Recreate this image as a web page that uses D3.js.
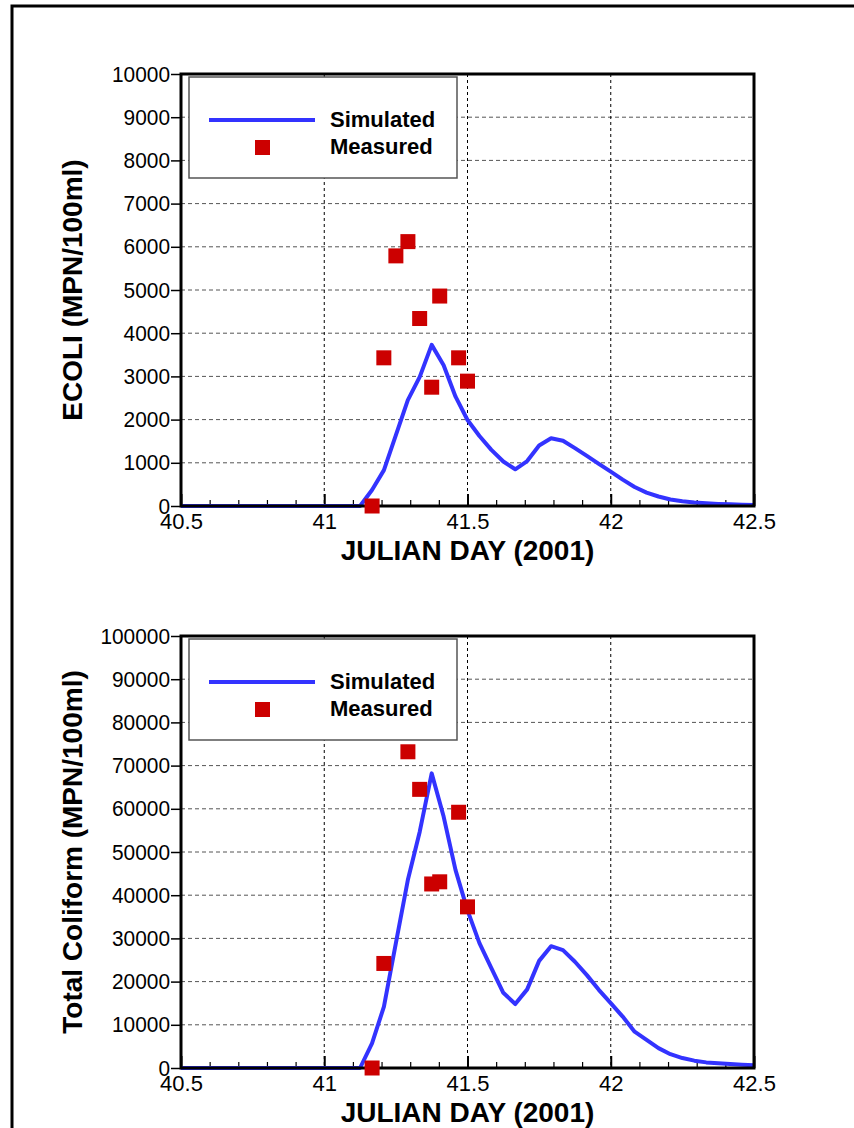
<!doctype html>
<html>
<head>
<meta charset="utf-8">
<script src="https://cdnjs.cloudflare.com/ajax/libs/d3/7.8.5/d3.min.js"></script>
<style>
  body { margin: 0; background: #fff; }
  svg text { font-family: "Liberation Sans", Arial, sans-serif; }
  .tick text { font-size: 22px; fill: #000; }
</style>
</head>
<body>
<svg id="chart" width="854" height="1128"></svg>
<script>
// simulated model output, hourly (julian day)
var simDays = [40.5, 41.0833, 41.125, 41.1667, 41.2083, 41.25, 41.2917, 41.3333, 41.375, 41.4167,
  41.4583, 41.5, 41.5417, 41.5833, 41.625, 41.6667, 41.7083, 41.75, 41.7917, 41.8333,
  41.875, 41.9167, 41.9583, 42.0, 42.0417, 42.0833, 42.125, 42.1667, 42.2083, 42.25,
  42.2917, 42.3333, 42.375, 42.4167, 42.4583, 42.5];
var ecoliSim = [0, 0, 0, 370, 830, 1640, 2450, 2990, 3730, 3260,
  2530, 1990, 1620, 1300, 1030, 850, 1040, 1400, 1570, 1510,
  1340, 1160, 975, 795, 610, 440, 310, 220, 150, 110,
  80, 62, 48, 38, 30, 24];
var tcSim = [0, 0, 0, 5700, 14200, 28900, 43500, 54700, 68200, 58200,
  45800, 36500, 28900, 23100, 17400, 14800, 18200, 24800, 28200, 27300,
  24600, 21500, 18100, 15000, 11900, 8400, 6500, 4600, 3200, 2300,
  1700, 1300, 1100, 900, 750, 630];

// measured samples
var ecoliMeasDays = [41.167, 41.208, 41.25, 41.292, 41.333, 41.375, 41.403, 41.469, 41.5];
var ecoliMeas = [0, 3430, 5790, 6120, 4340, 2750, 4860, 3430, 2890];
var tcMeasDays = [41.167, 41.208, 41.292, 41.333, 41.375, 41.403, 41.469, 41.5];
var tcMeas = [0, 24200, 73200, 64500, 42600, 43100, 59200, 37300];

var xTicks = [40.5, 41, 41.5, 42, 42.5];
var xMinor = [40.6, 40.7, 40.8, 40.9, 41.1, 41.2, 41.3, 41.4, 41.6, 41.7, 41.8, 41.9, 42.1, 42.2, 42.3, 42.4];
var ecoliTicks = [0, 1000, 2000, 3000, 4000, 5000, 6000, 7000, 8000, 9000, 10000];
var tcTicks = [0, 10000, 20000, 30000, 40000, 50000, 60000, 70000, 80000, 90000, 100000];

var svg = d3.select("#chart");

// outer frame
svg.append("rect")
  .attr("x", 12).attr("y", 6)
  .attr("width", 900).attr("height", 1200)
  .attr("fill", "none").attr("stroke", "#000").attr("stroke-width", 3);

function panel(top, yMax, yTicks, yLabel, sim, mDays, mVals) {
  var left = 181, right = 754, bottom = top + 432;
  var x = d3.scaleLinear().domain([40.5, 42.5]).range([left, right]);
  var y = d3.scaleLinear().domain([0, yMax]).range([bottom, top]);
  var g = svg.append("g");

  // horizontal grid
  g.selectAll("line.hgrid").data(yTicks.slice(1, -1)).enter().append("line")
    .attr("x1", left).attr("x2", right)
    .attr("y1", d => y(d)).attr("y2", d => y(d))
    .attr("stroke", "#555").attr("stroke-width", 1).attr("stroke-dasharray", "4,3");
  // vertical grid
  g.selectAll("line.vgrid").data(xTicks.slice(1, -1)).enter().append("line")
    .attr("x1", d => x(d)).attr("x2", d => x(d))
    .attr("y1", top).attr("y2", bottom)
    .attr("stroke", "#000").attr("stroke-width", 1).attr("stroke-dasharray", "3,3");

  // y axis
  var yAxis = d3.axisLeft(y).tickValues(yTicks).tickSize(10).tickPadding(1).tickFormat(d3.format("d"));
  var ya = g.append("g").attr("transform", "translate(" + left + ",0)").call(yAxis);
  ya.select(".domain").remove();
  ya.selectAll(".tick line").attr("stroke-width", 1.5);
  ya.selectAll(".tick text")
    .attr("textLength", d => String(d).length * 11.6)
    .attr("lengthAdjust", "spacingAndGlyphs");

  // x axis: minor and major ticks inward
  var xMinorAxis = d3.axisBottom(x).tickValues(xMinor).tickSize(-6).tickFormat("");
  var xm = g.append("g").attr("transform", "translate(0," + bottom + ")").call(xMinorAxis);
  xm.select(".domain").remove();
  xm.selectAll(".tick line").attr("stroke-width", 1.2);
  var xAxis = d3.axisBottom(x).tickValues(xTicks).tickSize(-12).tickPadding(6).tickFormat(d3.format("~g"));
  var xa = g.append("g").attr("transform", "translate(0," + bottom + ")").call(xAxis);
  xa.select(".domain").remove();
  xa.selectAll(".tick line").attr("stroke-width", 2);
  xa.selectAll(".tick text").attr("y", 23).attr("dy", 0);

  // simulated line
  var line = d3.line().x((d, i) => x(simDays[i])).y(d => y(d));
  g.append("path").attr("d", line(sim))
    .attr("fill", "none").attr("stroke", "#3333ff").attr("stroke-width", 4)
    .attr("stroke-linejoin", "round");

  // plot box
  g.append("rect").attr("x", left).attr("y", top)
    .attr("width", right - left).attr("height", bottom - top)
    .attr("fill", "none").attr("stroke", "#000").attr("stroke-width", 3);

  // measured points
  g.selectAll("rect.meas").data(mVals).enter().append("rect")
    .attr("x", (d, i) => x(mDays[i]) - 7.5)
    .attr("y", d => y(d) - 7.5)
    .attr("width", 15).attr("height", 15)
    .attr("fill", "#cc0000");

  // legend
  var lg = g.append("g").attr("transform", "translate(189," + (top + 3) + ")");
  lg.append("rect").attr("x", 0).attr("y", 0).attr("width", 268).attr("height", 101)
    .attr("fill", "#fff").attr("stroke", "#555").attr("stroke-width", 1.5);
  lg.append("line").attr("x1", 20).attr("x2", 126).attr("y1", 43).attr("y2", 43)
    .attr("stroke", "#3333ff").attr("stroke-width", 4);
  lg.append("rect").attr("x", 66).attr("y", 63).attr("width", 15).attr("height", 15)
    .attr("fill", "#cc0000");
  lg.append("text").attr("x", 141).attr("y", 50).text("Simulated")
    .attr("font-size", 22).attr("font-weight", "bold");
  lg.append("text").attr("x", 141).attr("y", 77).text("Measured")
    .attr("font-size", 22).attr("font-weight", "bold");

  // axis titles
  g.append("text").attr("x", (left + right) / 2).attr("y", bottom + 54)
    .attr("text-anchor", "middle").attr("font-size", 28).attr("font-weight", "bold")
    .text("JULIAN DAY (2001)");
  g.append("text")
    .attr("transform", "translate(82," + ((top + bottom) / 2) + ") rotate(-90)")
    .attr("text-anchor", "middle").attr("font-size", 28).attr("font-weight", "bold")
    .text(yLabel);
}

panel(74, 10000, ecoliTicks, "ECOLI (MPN/100ml)", ecoliSim, ecoliMeasDays, ecoliMeas);
panel(636, 100000, tcTicks, "Total Coliform (MPN/100ml)", tcSim, tcMeasDays, tcMeas);
</script>
</body>
</html>
